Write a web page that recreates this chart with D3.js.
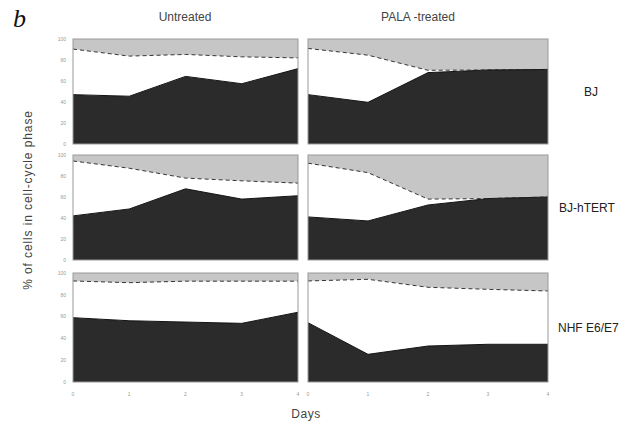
<!DOCTYPE html>
<html>
<head>
<meta charset="utf-8">
<script src="https://cdn.jsdelivr.net/npm/d3@7"></script>
<style>
  body { margin: 0; background: #fff; }
</style>
</head>
<body>
<script>
// days on the x axis
const days = [0, 1, 2, 3, 4]
const yTicks = [0, 20, 40, 60, 80, 100]

const cellLines = ['BJ', 'BJ-hTERT', 'NHF E6/E7']
const treatments = ['Untreated', 'PALA -treated']

// % of cells in G1 (black) and S (white); the rest is G2/M (gray)
const bjUntreatedG1 = [47, 45.5, 64.4, 57.4, 71.8]
const bjUntreatedS = [43.4, 38.2, 20.9, 25.6, 10.2]
const bjPalaG1 = [47, 39.7, 68, 70.5, 71]
const bjPalaS = [44, 44.9, 2.2, 0, 0]
const htertUntreatedG1 = [42, 48.6, 67.8, 58, 61.2]
const htertUntreatedS = [52.3, 38.8, 10.2, 17.4, 12]
const htertPalaG1 = [41, 37.2, 52.4, 58.5, 60]
const htertPalaS = [51.2, 46, 5.6, 0, 0]
const nhfUntreatedG1 = [59, 56.2, 55, 53.8, 64]
const nhfUntreatedS = [33.7, 34.9, 37.5, 38.7, 28.5]
const nhfPalaG1 = [54.4, 25.4, 33, 34.6, 34.6]
const nhfPalaS = [38.3, 68.8, 53.9, 50.4, 48.9]

const panels = [
  [[bjUntreatedG1, bjUntreatedS], [bjPalaG1, bjPalaS]],
  [[htertUntreatedG1, htertUntreatedS], [htertPalaG1, htertPalaS]],
  [[nhfUntreatedG1, nhfUntreatedS], [nhfPalaG1, nhfPalaS]]
]

const width = 626, height = 426
const sans = 'Liberation Sans, Arial, sans-serif'
const colX = [[73, 298], [308, 548]]
const rowY = [[39, 144], [155, 260], [273, 382]]

const svg = d3.select('body').append('svg')
  .attr('width', width)
  .attr('height', height)
  .attr('font-family', sans)

const stack = d3.stack().keys(['g1', 's', 'g2m'])

panels.forEach(function (row, r) {
  row.forEach(function (p, c) {
    const x = d3.scaleLinear().domain([0, 4]).range(colX[c])
    const y = d3.scaleLinear().domain([0, 100]).range([rowY[r][1], rowY[r][0]])

    const table = days.map(function (d, i) {
      return { day: d, g1: p[0][i], s: p[1][i], g2m: 100 - p[0][i] - p[1][i] }
    })
    const series = stack(table)

    const g = svg.append('g')

    const area = d3.area()
      .x(function (d) { return x(d.data.day) })
      .y0(function (d) { return y(d[0]) })
      .y1(function (d) { return y(d[1]) })

    const fills = ['#2b2b2b', '#ffffff', '#c6c6c6']
    g.selectAll('path.layer')
      .data(series)
      .enter()
      .append('path')
      .attr('class', 'layer')
      .attr('fill', function (d, i) { return fills[i] })
      .attr('d', area)

    // boundary lines
    const line = d3.line()
      .x(function (d) { return x(d.data.day) })
      .y(function (d) { return y(d[1]) })
    g.append('path')
      .attr('d', line(series[0]))
      .attr('fill', 'none')
      .attr('stroke', '#111')
      .attr('stroke-width', 1)
    g.append('path')
      .attr('d', line(series[1]))
      .attr('fill', 'none')
      .attr('stroke', '#222')
      .attr('stroke-width', 0.9)
      .attr('stroke-dasharray', '4,3')

    // frame
    g.append('rect')
      .attr('x', colX[c][0])
      .attr('y', rowY[r][0])
      .attr('width', colX[c][1] - colX[c][0])
      .attr('height', rowY[r][1] - rowY[r][0])
      .attr('fill', 'none')
      .attr('stroke', '#999')
      .attr('stroke-width', 1)

    // y tick labels on the left column only
    if (c === 0) {
      g.selectAll('text.yt')
        .data(yTicks)
        .enter()
        .append('text')
        .attr('class', 'yt')
        .attr('x', 66)
        .attr('y', function (d) { return y(d) })
        .attr('dy', '0.35em')
        .attr('text-anchor', 'end')
        .attr('font-size', 5)
        .attr('fill', '#999')
        .text(function (d) { return d })
    }

    // x tick labels on the bottom row
    if (r === 2) {
      g.selectAll('text.xt')
        .data(days)
        .enter()
        .append('text')
        .attr('class', 'xt')
        .attr('x', function (d) { return x(d) })
        .attr('y', 396)
        .attr('text-anchor', 'middle')
        .attr('font-size', 5)
        .attr('fill', '#999')
        .text(function (d) { return d })
    }
  })
})

// column titles
const colTitleX = [185, 418]
svg.selectAll('text.col')
  .data(treatments)
  .enter()
  .append('text')
  .attr('x', function (d, i) { return colTitleX[i] })
  .attr('y', 21)
  .attr('text-anchor', 'middle')
  .attr('font-size', 12)
  .attr('fill', '#444')
  .text(function (d) { return d })

// row labels
const rowLabelX = [584, 559, 558]
svg.selectAll('text.row')
  .data(cellLines)
  .enter()
  .append('text')
  .attr('x', function (d, i) { return rowLabelX[i] })
  .attr('y', function (d, i) { return (rowY[i][0] + rowY[i][1]) / 2 + 4 })
  .attr('font-size', 12)
  .attr('fill', '#222')
  .text(function (d) { return d })

svg.append('text')
  .attr('x', 13)
  .attr('y', 27)
  .attr('font-family', 'Liberation Serif, serif')
  .attr('font-style', 'italic')
  .attr('font-size', 26)
  .attr('fill', '#111')
  .text('b')

svg.append('text')
  .attr('x', 306)
  .attr('y', 418)
  .attr('text-anchor', 'middle')
  .attr('font-size', 12)
  .attr('letter-spacing', 0.5)
  .attr('fill', '#444')
  .text('Days')

svg.append('text')
  .attr('transform', 'translate(32,200) rotate(-90)')
  .attr('text-anchor', 'middle')
  .attr('font-size', 12)
  .attr('letter-spacing', 0.9)
  .attr('fill', '#444')
  .text('% of cells in cell-cycle phase')
</script>
</body>
</html>
